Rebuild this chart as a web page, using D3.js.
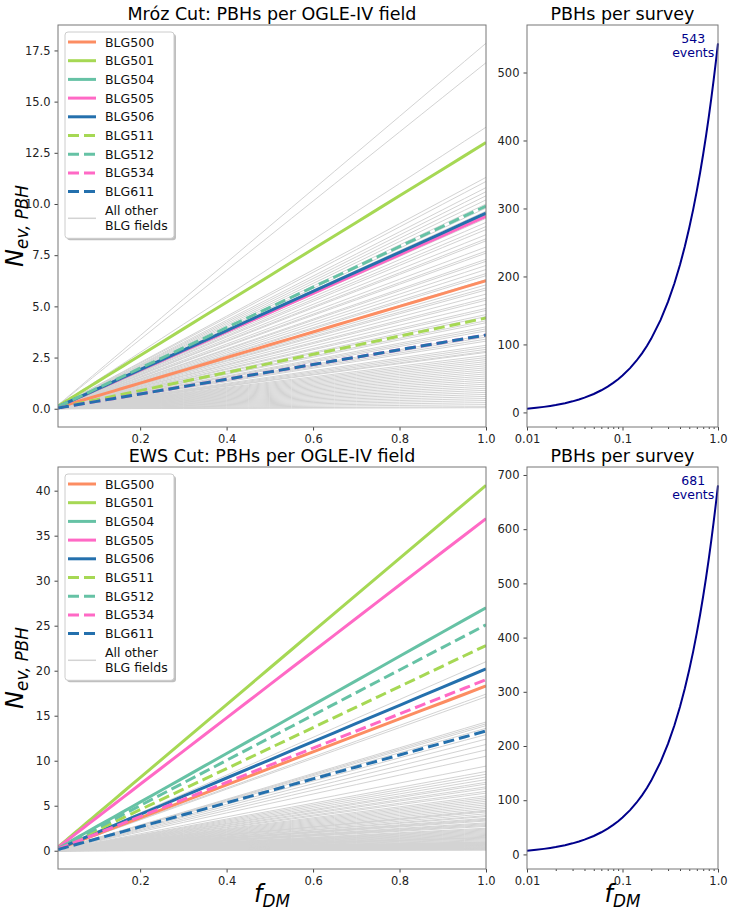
<!DOCTYPE html>
<html lang="en">
<head>
<meta charset="utf-8">
<title>PBHs per OGLE-IV field</title>
<script src="https://d3js.org/d3.v7.min.js"></script>
<style>
  body { margin: 0; background: #fff; }
  svg text { font-family: "DejaVu Sans", sans-serif; }
  .tick text { font-size: 11.5px; fill: #222; }
  .tick line { stroke: #444; }
  .frame { fill: none; stroke: #777; stroke-width: 1; }
</style>
</head>
<body>
<svg id="chart" width="731" height="914"></svg>
<script>
// highlighted fields (value of N_ev at f_DM = 1)
const fields = ["BLG500", "BLG501", "BLG504", "BLG505", "BLG506", "BLG511", "BLG512", "BLG534", "BLG611"];
const fieldColors = ["#fc8d62", "#a6d854", "#66c2a5", "#ff69c5", "#2470ad", "#a6d854", "#66c2a5", "#ff69c5", "#2470ad"];
const fieldDashed = [false, false, false, false, false, true, true, true, true];
const mrozFields = [6.25, 13.0, 9.45, 9.4, 9.55, 4.43, 9.9, 3.6, 3.6];
const ewsFields = [18.3, 40.6, 27.0, 36.9, 20.2, 22.8, 25.1, 19.0, 13.3];

// all other BLG fields, N_ev at f_DM = 1
const mrozOther = [17.85, 16.9, 13.75, 11.3, 11.1, 10.8, 10.6, 10.4, 10.2, 10.0, 9.8, 9.65, 9.4, 9.3, 9.1,
  8.9, 8.75, 8.5, 8.3, 8.2, 7.9, 7.7, 7.6, 7.3, 7.2, 7.0, 6.8, 6.6, 6.5, 6.3, 6.05, 5.9, 5.8, 5.6, 5.4,
  5.3, 5.1, 4.9, 4.8, 4.6, 4.5, 4.3, 4.2, 4.0, 3.9, 3.8, 3.6, 3.5, 3.4, 3.3, 3.1, 3.0, 2.9, 2.8, 2.75,
  2.6, 2.5, 2.4, 2.3, 2.2, 2.1, 2.0, 1.9, 1.8, 1.7, 1.6, 1.5, 1.4, 1.3, 1.2, 1.1, 1.0, 0.9, 0.8, 0.7,
  0.6, 0.5, 0.4, 0.3, 0.2, 0.1, 0.05];
const ewsOther = [21.0, 17.4, 17.1, 14.3, 14.1, 13.9, 13.6, 12.9, 12.4, 11.8, 11.2, 10.5, 9.4, 8.8, 8.5,
  8.2, 7.9, 7.6, 7.4, 7.1, 6.9, 6.6, 6.4, 6.1, 5.9, 5.7, 5.5, 5.3, 5.1, 4.9, 4.7, 4.5, 4.4, 4.3, 4.1,
  3.9, 3.8, 3.6, 3.5, 3.4, 3.3, 3.1, 3.0, 2.9, 2.8, 2.7, 2.5, 2.4, 2.3, 2.2, 2.1, 2.0, 1.9, 1.8, 1.7,
  1.6, 1.5, 1.45, 1.4, 1.3, 1.2, 1.1, 1.0, 0.95, 0.9, 0.85, 0.8, 0.75, 0.7, 0.65, 0.6, 0.55, 0.5, 0.45,
  0.4, 0.35, 0.3, 0.28, 0.25, 0.2, 0.18, 0.15, 0.12, 0.1, 0.08];

const surveyTotals = [543, 681];
const fdm = [0.01, 0.0125, 0.015, 0.0175, 0.02, 0.025, 0.03, 0.035, 0.04, 0.05, 0.06, 0.07, 0.08, 0.09,
  0.1, 0.12, 0.14, 0.16, 0.18, 0.2, 0.25, 0.3, 0.35, 0.4, 0.45, 0.5, 0.55, 0.6, 0.65, 0.7, 0.75, 0.8,
  0.85, 0.9, 0.95, 1.0];

const titles = ["Mr\u00f3z Cut: PBHs per OGLE-IV field", "EWS Cut: PBHs per OGLE-IV field"];
const surveyTitle = "PBHs per survey";
const xTicksLeft = [0.2, 0.4, 0.6, 0.8, 1.0];
const yTicksLeft = [[0, 2.5, 5, 7.5, 10, 12.5, 15, 17.5], [0, 5, 10, 15, 20, 25, 30, 35, 40]];
const yTicksRight = [[0, 100, 200, 300, 400, 500], [0, 100, 200, 300, 400, 500, 600, 700]];
const xTicksRight = [0.01, 0.1, 1.0];

const svg = d3.select("#chart");

const leftX = [58, 486];
const rightX = [527, 718];
const rows = [[25, 427], [467, 869]];

// matplotlib style 5% padding
function padded(lo, hi) {
  const r = hi - lo;
  return [lo - 0.05 * r, hi + 0.05 * r];
}

function frame(x0, x1, y0, y1) {
  svg.append("rect")
    .attr("class", "frame")
    .attr("x", x0).attr("y", y0)
    .attr("width", x1 - x0).attr("height", y1 - y0);
}

function subLabel(g, main, sub, size) {
  const t = g.append("text").attr("font-style", "italic").attr("fill", "#000");
  t.append("tspan").attr("font-size", size).text(main);
  t.append("tspan").attr("font-size", size * 0.7).attr("dy", size * 0.22).text(sub);
  return t;
}

rows.forEach(([top, bottom], i) => {
  const fieldVals = i === 0 ? mrozFields : ewsFields;
  const otherVals = i === 0 ? mrozOther : ewsOther;
  const allVals = fieldVals.concat(otherVals);

  // ---------- left panel ----------
  const x = d3.scaleLinear().domain([0.01, 1.0]).range(leftX);
  const yMax = d3.max(allVals);
  const yMin = d3.min(allVals) * 0.01;
  const y = d3.scaleLinear().domain(padded(yMin, yMax)).range([bottom, top]);

  const clipId = "clip" + i;
  svg.append("clipPath").attr("id", clipId)
    .append("rect")
    .attr("x", leftX[0]).attr("y", top)
    .attr("width", leftX[1] - leftX[0]).attr("height", bottom - top);

  const line = d3.line().x(d => x(d[0])).y(d => y(d[1]));
  const g = svg.append("g").attr("clip-path", "url(#" + clipId + ")");

  g.selectAll(".other")
    .data(otherVals)
    .join("path")
    .attr("class", "other")
    .attr("d", v => line(fdm.map(f => [f, v * f])))
    .attr("fill", "none")
    .attr("stroke", "#d3d3d3")
    .attr("stroke-width", 1);

  g.selectAll(".field")
    .data(fieldVals)
    .join("path")
    .attr("class", "field")
    .attr("d", v => line(fdm.map(f => [f, v * f])))
    .attr("fill", "none")
    .attr("stroke", (v, k) => fieldColors[k])
    .attr("stroke-width", 3)
    .attr("stroke-dasharray", (v, k) => fieldDashed[k] ? "11,5" : null);

  svg.append("g")
    .attr("transform", "translate(0," + bottom + ")")
    .call(d3.axisBottom(x).tickValues(xTicksLeft).tickFormat(d3.format(".1f")).tickSize(3.5).tickPadding(4))
    .call(a => a.select(".domain").remove());

  svg.append("g")
    .attr("transform", "translate(" + leftX[0] + ",0)")
    .call(d3.axisLeft(y).tickValues(yTicksLeft[i])
      .tickFormat(i === 0 ? d3.format(".1f") : d3.format("d")).tickSize(3.5).tickPadding(4))
    .call(a => a.select(".domain").remove());

  frame(leftX[0], leftX[1], top, bottom);

  svg.append("text")
    .attr("x", (leftX[0] + leftX[1]) / 2)
    .attr("y", top - 5)
    .attr("text-anchor", "middle")
    .attr("font-size", 17.5)
    .text(titles[i]);

  const yl = svg.append("g")
    .attr("transform", "translate(23," + (top + bottom) / 2 + ") rotate(-90)");
  subLabel(yl, "N", "ev, PBH", 24).attr("text-anchor", "middle");

  // legend
  const lx = leftX[0] + 7, ly = top + 7;
  const rowH = 18.7;
  const lg = svg.append("g").attr("transform", "translate(" + lx + "," + ly + ")");
  const boxH = rowH * fields.length + 38;
  lg.append("rect").attr("x", 2).attr("y", 2).attr("width", 109).attr("height", boxH)
    .attr("rx", 3).attr("fill", "#000").attr("opacity", 0.25);
  lg.append("rect").attr("x", 0).attr("y", 0).attr("width", 109).attr("height", boxH)
    .attr("rx", 3).attr("fill", "#fff").attr("stroke", "#ccc");
  fields.forEach((name, k) => {
    const cy = 10 + k * rowH;
    lg.append("line")
      .attr("x1", 3).attr("x2", 31).attr("y1", cy).attr("y2", cy)
      .attr("stroke", fieldColors[k]).attr("stroke-width", 3)
      .attr("stroke-dasharray", fieldDashed[k] ? "11,5" : null);
    lg.append("text").attr("x", 40).attr("y", cy + 4.5)
      .attr("font-size", 12.5).attr("fill", "#111").text(name);
  });
  const oy = 10 + fields.length * rowH + 8;
  lg.append("line").attr("x1", 3).attr("x2", 31).attr("y1", oy).attr("y2", oy)
    .attr("stroke", "#d3d3d3").attr("stroke-width", 1.5);
  lg.append("text").attr("x", 40).attr("y", oy - 3).attr("font-size", 12.5).attr("fill", "#111").text("All other");
  lg.append("text").attr("x", 40).attr("y", oy + 11.5).attr("font-size", 12.5).attr("fill", "#111").text("BLG fields");

  // ---------- right panel ----------
  const total = surveyTotals[i];
  const xr = d3.scaleLog().domain([0.01, 1.0]).range(rightX);
  const yr = d3.scaleLinear().domain(padded(total * 0.01, total)).range([bottom, top]);

  svg.append("path")
    .attr("d", d3.line().x(f => xr(f)).y(f => yr(total * f))(fdm))
    .attr("fill", "none")
    .attr("stroke", "#00008b")
    .attr("stroke-width", 2);

  const labels = new Map([[0.01, "0.01"], [0.1, "0.1"], [1, "1.0"]]);
  const bx = svg.append("g")
    .attr("transform", "translate(0," + bottom + ")")
    .call(d3.axisBottom(xr).tickValues(xr.ticks()).tickSize(2)
      .tickFormat(d => labels.get(+d.toPrecision(3)) || ""))
    .call(a => a.select(".domain").remove());
  bx.selectAll(".tick")
    .filter(d => xTicksRight.some(t => Math.abs(t - d) < 1e-9))
    .select("line").attr("y2", 3.5);
  bx.selectAll(".tick text").attr("y", 7.5);

  svg.append("g")
    .attr("transform", "translate(" + rightX[0] + ",0)")
    .call(d3.axisLeft(yr).tickValues(yTicksRight[i]).tickFormat(d3.format("d")).tickSize(3.5).tickPadding(4))
    .call(a => a.select(".domain").remove());

  frame(rightX[0], rightX[1], top, bottom);

  svg.append("text")
    .attr("x", (rightX[0] + rightX[1]) / 2)
    .attr("y", top - 5)
    .attr("text-anchor", "middle")
    .attr("font-size", 17.5)
    .text(surveyTitle);

  const note = svg.append("text")
    .attr("text-anchor", "middle")
    .attr("font-size", 12.5)
    .attr("fill", "#00008b");
  note.append("tspan").attr("x", xr(0.55)).attr("y", yr(total)).text(total);
  note.append("tspan").attr("x", xr(0.55)).attr("dy", 13.5).text("events");

  if (i === 1) {
    [leftX, rightX].forEach(r => {
      const xl = svg.append("g")
        .attr("transform", "translate(" + (r[0] + r[1]) / 2 + ",902)");
      subLabel(xl, "f", "DM", 24).attr("text-anchor", "middle");
    });
  }
});
</script>
</body>
</html>
